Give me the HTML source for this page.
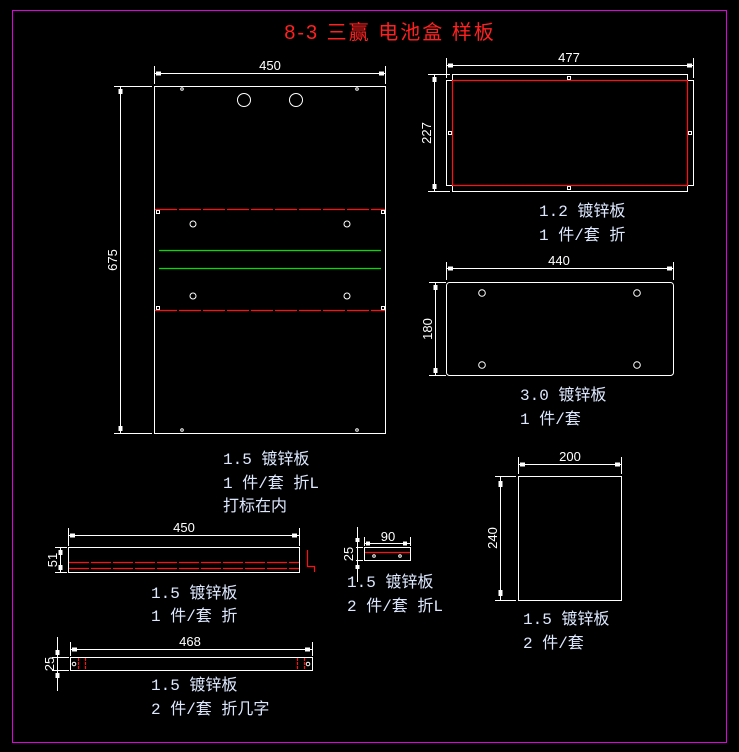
<!DOCTYPE html>
<html><head><meta charset="utf-8"><style>
html,body{margin:0;padding:0;background:#000;}
svg{display:block}
.t{font-family:"Liberation Mono","Noto Sans CJK SC",monospace;font-size:16px;fill:#dde8ff}
.d{font-family:"Liberation Sans",sans-serif;font-size:13px;fill:#fff}
</style></head><body>
<svg width="739" height="752" viewBox="0 0 739 752" xmlns="http://www.w3.org/2000/svg">
<rect x="0" y="0" width="739" height="752" fill="#000"/>
<rect x="12.5" y="10.5" width="714" height="732" fill="none" stroke="#e000e0" stroke-width="1"/>
<text x="390" y="39" text-anchor="middle" font-family="Liberation Sans,'Noto Sans CJK SC',sans-serif" font-size="20" letter-spacing="2" fill="#ff2020">8-3 三赢 电池盒 样板</text>
<g stroke="#fff" stroke-width="1" fill="none">
<rect x="154.5" y="86.5" width="231" height="347"/>
<line x1="154.5" y1="66" x2="154.5" y2="84"/><line x1="385.5" y1="66" x2="385.5" y2="84"/>
<line x1="154.5" y1="73.5" x2="385.5" y2="73.5"/>
<line x1="114" y1="86.5" x2="152" y2="86.5"/><line x1="114" y1="433.5" x2="152" y2="433.5"/>
<line x1="120.5" y1="86.5" x2="120.5" y2="433.5"/>
<circle cx="244" cy="100" r="6.5"/><circle cx="296" cy="100" r="6.5"/>
<circle cx="182" cy="89" r="1.3"/><circle cx="357" cy="89" r="1.3"/>
<circle cx="182" cy="430" r="1.3"/><circle cx="357" cy="430" r="1.3"/>
<circle cx="193" cy="224" r="3"/><circle cx="347" cy="224" r="3"/>
<circle cx="193" cy="296" r="3"/><circle cx="347" cy="296" r="3"/>
<rect x="156.5" y="210.5" width="3" height="3"/><rect x="381.5" y="210.5" width="3" height="3"/>
<rect x="156.5" y="306.5" width="3" height="3"/><rect x="381.5" y="306.5" width="3" height="3"/>
<path d="M452.5 74.5 H687.5 V80.5 H693.5 V185.5 H687.5 V191.5 H452.5 V185.5 H446.5 V80.5 H452.5 Z"/>
<line x1="446.5" y1="58" x2="446.5" y2="78"/><line x1="693.5" y1="58" x2="693.5" y2="78"/>
<line x1="446.5" y1="65.5" x2="693.5" y2="65.5"/>
<line x1="428" y1="74.5" x2="450" y2="74.5"/><line x1="428" y1="191.5" x2="450" y2="191.5"/>
<line x1="434.5" y1="74.5" x2="434.5" y2="191.5"/>
<rect x="567.5" y="76.5" width="3" height="3"/><rect x="567.5" y="186.5" width="3" height="3"/>
<rect x="448.5" y="131.5" width="3" height="3"/><rect x="688.5" y="131.5" width="3" height="3"/>
<rect x="446.5" y="282.5" width="227" height="93" rx="3"/>
<line x1="446.5" y1="262" x2="446.5" y2="280"/><line x1="673.5" y1="262" x2="673.5" y2="280"/>
<line x1="446.5" y1="268.5" x2="673.5" y2="268.5"/>
<line x1="429" y1="282.5" x2="446" y2="282.5"/><line x1="429" y1="375.5" x2="446" y2="375.5"/>
<line x1="435.5" y1="282.5" x2="435.5" y2="375.5"/>
<circle cx="482" cy="293" r="3.3"/><circle cx="637" cy="293" r="3.3"/>
<circle cx="482" cy="365" r="3.3"/><circle cx="637" cy="365" r="3.3"/>
<rect x="518.5" y="476.5" width="103" height="124"/>
<line x1="518.5" y1="457" x2="518.5" y2="474"/><line x1="621.5" y1="457" x2="621.5" y2="474"/>
<line x1="518.5" y1="464.5" x2="621.5" y2="464.5"/>
<line x1="495" y1="476.5" x2="516" y2="476.5"/><line x1="495" y1="600.5" x2="516" y2="600.5"/>
<line x1="500.5" y1="476.5" x2="500.5" y2="600.5"/>
<rect x="364.5" y="547.5" width="46" height="13"/>
<line x1="364.5" y1="537" x2="364.5" y2="546"/><line x1="410.5" y1="537" x2="410.5" y2="546"/>
<line x1="364.5" y1="543.5" x2="410.5" y2="543.5"/>
<line x1="356" y1="547.5" x2="363" y2="547.5"/><line x1="356" y1="560.5" x2="363" y2="560.5"/>
<line x1="357.5" y1="527" x2="357.5" y2="582"/>
<circle cx="374" cy="556" r="1.3"/><circle cx="400" cy="556" r="1.3"/>
<rect x="68.5" y="547.5" width="231" height="25"/>
<line x1="68.5" y1="528" x2="68.5" y2="546"/><line x1="299.5" y1="528" x2="299.5" y2="546"/>
<line x1="68.5" y1="535.5" x2="299.5" y2="535.5"/>
<line x1="55" y1="547.5" x2="67" y2="547.5"/><line x1="55" y1="572.5" x2="67" y2="572.5"/>
<line x1="60.5" y1="547.5" x2="60.5" y2="572.5"/>
<rect x="70.5" y="657.5" width="242" height="13"/>
<line x1="70.5" y1="642" x2="70.5" y2="656"/><line x1="312.5" y1="642" x2="312.5" y2="656"/>
<line x1="70.5" y1="649.5" x2="312.5" y2="649.5"/>
<line x1="52" y1="657.5" x2="69" y2="657.5"/><line x1="52" y1="670.5" x2="69" y2="670.5"/>
<line x1="57.5" y1="637" x2="57.5" y2="691"/>
<circle cx="74" cy="664" r="1.8"/><circle cx="308" cy="664" r="1.8"/>
</g>
<g fill="#fff">
<rect x="156" y="71.5" width="5" height="4"/><rect x="379" y="71.5" width="5" height="4"/>
<rect x="118.5" y="89" width="4" height="5"/><rect x="118.5" y="426" width="4" height="5"/>
<rect x="448" y="63.5" width="5" height="4"/><rect x="687" y="63.5" width="5" height="4"/>
<rect x="432.5" y="77" width="4" height="5"/><rect x="432.5" y="184" width="4" height="5"/>
<rect x="448" y="266.5" width="5" height="4"/><rect x="667" y="266.5" width="5" height="4"/>
<rect x="433.5" y="285" width="4" height="5"/><rect x="433.5" y="368" width="4" height="5"/>
<rect x="520" y="462.5" width="5" height="4"/><rect x="615" y="462.5" width="5" height="4"/>
<rect x="498.5" y="481" width="4" height="6"/><rect x="498.5" y="590" width="4" height="6"/>
<rect x="70" y="533.5" width="5" height="4"/><rect x="292" y="533.5" width="5" height="4"/>
<rect x="58.5" y="550" width="4" height="5"/><rect x="58.5" y="565" width="4" height="5"/>
<rect x="72" y="647.5" width="5" height="4"/><rect x="305" y="647.5" width="5" height="4"/>
<rect x="55.5" y="650" width="4" height="5"/><rect x="55.5" y="673" width="4" height="5"/>
<rect x="366" y="541.5" width="4" height="4"/><rect x="403" y="541.5" width="4" height="4"/>
<rect x="355.5" y="538" width="4" height="4"/><rect x="355.5" y="565" width="4" height="4"/>
</g>
<g stroke="#ff1010" stroke-width="1.2" fill="none">
<line x1="155" y1="209.5" x2="385" y2="209.5" stroke-dasharray="22,2"/>
<line x1="155" y1="310.5" x2="385" y2="310.5" stroke-dasharray="22,2"/>
<rect x="452.5" y="80.5" width="235" height="105"/>
<line x1="69" y1="562.5" x2="299" y2="562.5" stroke-dasharray="20,2"/>
<line x1="69" y1="568.5" x2="299" y2="568.5" stroke-dasharray="20,2"/>
<path d="M307.5 550 V566.5 H314.5 V572"/>
<line x1="365" y1="552.5" x2="410" y2="552.5"/>
<line x1="78.5" y1="658" x2="78.5" y2="670" stroke-dasharray="3,1"/>
<line x1="85.5" y1="658" x2="85.5" y2="670" stroke-dasharray="3,1"/>
<line x1="297.5" y1="658" x2="297.5" y2="670" stroke-dasharray="3,1"/>
<line x1="304.5" y1="658" x2="304.5" y2="670" stroke-dasharray="3,1"/>
</g>
<g stroke="#00e000" stroke-width="1.2">
<line x1="159" y1="250.5" x2="381" y2="250.5"/>
<line x1="159" y1="268.5" x2="381" y2="268.5"/>
</g>
<g class="d" text-anchor="middle">
<text x="270" y="70">450</text>
<text x="569" y="62">477</text>
<text x="559" y="265">440</text>
<text x="570" y="461">200</text>
<text x="184" y="532">450</text>
<text x="190" y="646">468</text>
<text x="388" y="541">90</text>
<text transform="translate(117,260) rotate(-90)">675</text>
<text transform="translate(431,133) rotate(-90)">227</text>
<text transform="translate(432,329) rotate(-90)">180</text>
<text transform="translate(497,538) rotate(-90)">240</text>
<text transform="translate(57,560) rotate(-90)">51</text>
<text transform="translate(54,664) rotate(-90)">25</text>
<text transform="translate(353,554) rotate(-90)">25</text>
</g>
<g class="t">
<text x="223" y="464">1.5 镀锌板</text>
<text x="223" y="488">1 件/套 折L</text>
<text x="223" y="511">打标在内</text>
<text x="539" y="216">1.2 镀锌板</text>
<text x="539" y="240">1 件/套 折</text>
<text x="520" y="400">3.0 镀锌板</text>
<text x="520" y="424">1 件/套</text>
<text x="523" y="624">1.5 镀锌板</text>
<text x="523" y="648">2 件/套</text>
<text x="347" y="587">1.5 镀锌板</text>
<text x="347" y="611">2 件/套 折L</text>
<text x="151" y="598">1.5 镀锌板</text>
<text x="151" y="621">1 件/套 折</text>
<text x="151" y="690">1.5 镀锌板</text>
<text x="151" y="714">2 件/套 折几字</text>
</g>
</svg>
</body></html>
